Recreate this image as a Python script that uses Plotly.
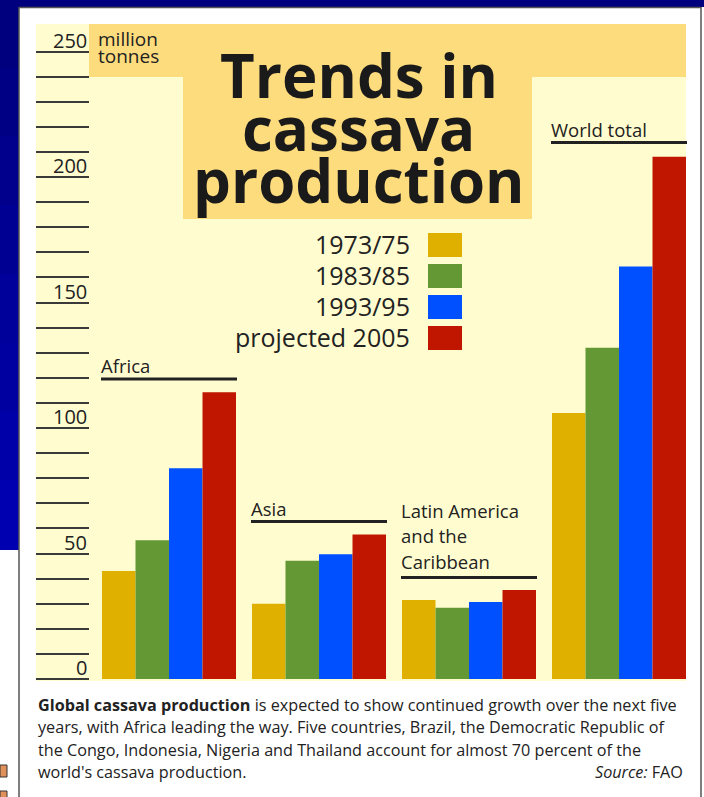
import plotly.graph_objects as go

W, H = 704, 797

# ---------------- data ----------------
regions = ["Africa", "Asia", "Latin America and the Caribbean", "World total"]
periods = ["1973/75", "1983/85", "1993/95", "projected 2005"]
v_1973_75 = [43, 30, 31.5, 106]
v_1983_85 = [55.3, 47.1, 28.4, 132]
v_1993_95 = [84, 49.7, 30.7, 164.3]
v_2005 = [114.2, 57.6, 35.5, 208.1]
series = [v_1973_75, v_1983_85, v_1993_95, v_2005]
colors = ["#E0B000", "#649834", "#0050FF", "#C01600"]
tick_lines = list(range(0, 251, 10))
tick_labels = [0, 50, 100, 150, 200, 250]

FONT = "Open Sans"
TXT = "#222222"

def px(x):
    return x / W

def py(y):
    return 1 - y / H

# axis geometry (pixels)
Y0_PX, Y_TOP_PX = 679, 24
SCALE = 2.51  # px per million tonnes
X_LEFT, X_RIGHT = 94, 694

fig = go.Figure()
for name, vals, col in zip(periods, series, colors):
    fig.add_trace(go.Bar(x=regions, y=vals, name=name, marker=dict(color=col, line=dict(width=0)),
                         showlegend=False, hoverinfo="x+y+name"))

shapes = []
def rect(x0, y0, x1, y1, color, line=None):
    shapes.append(dict(type="rect", xref="paper", yref="paper", x0=px(x0), x1=px(x1),
                       y0=py(y1), y1=py(y0), fillcolor=color,
                       line=dict(width=0) if line is None else line, layer="below"))

def hline(x0, x1, y, color="#222222", width=3):
    shapes.append(dict(type="line", xref="paper", yref="paper", x0=px(x0), x1=px(x1),
                       y0=py(y), y1=py(y), line=dict(color=color, width=width), layer="above"))

# slide background: blue band top and gradient strip left
rect(0, 0, W, 7, "#00007E")
n = 8
seg = 550 / n
for i in range(n):
    t = i / (n - 1)
    b = int(126 + t * (176 - 126))
    rect(0, max(0, i * seg - 1), 19, min(550, (i + 1) * seg + 2), f"rgb(0,0,{b})")
# white panel border
shapes.append(dict(type="line", xref="paper", yref="paper", x0=px(19), x1=px(19), y0=py(7), y1=0,
                   line=dict(color="#555555", width=1.5), layer="below"))
shapes.append(dict(type="line", xref="paper", yref="paper", x0=px(19), x1=px(701), y0=py(7.5), y1=py(7.5),
                   line=dict(color="#555555", width=1.5), layer="below"))
shapes.append(dict(type="line", xref="paper", yref="paper", x0=px(701), x1=px(701), y0=py(7), y1=0,
                   line=dict(color="#555555", width=1.5), layer="below"))
# small orange icons at the left edge
rect(0, 765, 7, 777, "#E0905A", line=dict(color="#333333", width=1))
rect(0, 791, 7, 800, "#E0905A", line=dict(color="#333333", width=1))

# chart panel
rect(36, 24, 686, 681, "#FFFCCF")
rect(89, 24, 686, 77, "#FDDC7E")
rect(183, 24, 532, 219, "#FDDC7E")

# legend swatches
for i, col in enumerate(colors):
    rect(428, 233 + 31 * i, 462, 257 + 31 * i, col)

annotations = []
def text(x, y, s, size, anchor="left", bold=False, color=TXT):
    annotations.append(dict(xref="paper", yref="paper", x=px(x), y=py(y), text=s, showarrow=False,
                            xanchor=anchor, yanchor="middle", borderpad=0,
                            font=dict(family=FONT, size=size, color=color,
                                      weight="bold" if bold else "normal")))

# title
for s, b in zip(["Trends in", "cassava", "production"], [97, 150, 202]):
    text(359, b - 0.36 * 60, s, 60, anchor="center", bold=True, color="#1A1A1A")

# unit
text(97, 46 - 0.36 * 19, "million", 19)
text(97, 63 - 0.36 * 19, "tonnes", 19)

# tick labels (above tick lines, right aligned)
for v in tick_labels:
    ypx = Y0_PX - v * SCALE
    text(88, ypx - 4 - 0.36 * 20, str(v), 20, anchor="right")

# legend text
for i, p in enumerate(periods):
    text(411, 245 + 31 * i - 1, p, 25, anchor="right")

# region labels with underline
grp_w = (X_RIGHT - X_LEFT) / len(regions)
gap = 16
region_labels = [
    (["Africa"], [372], 379),
    (["Asia"], [515], 521.5),
    (["Latin America", "and the", "Caribbean"], [517, 542, 568], 577.5),
    (["World total"], [136], 142.5),
]
for i, (lines, bases, ly) in enumerate(region_labels):
    gx0 = X_LEFT + i * grp_w + gap / 2
    gx1 = gx0 + grp_w - gap
    for s, b in zip(lines, bases):
        text(gx0 - 2, b - 0.36 * 18.5, s, 18.5)
    hline(gx0 - 1, gx1 + 1, ly)

# caption
cap = [
    "<b>Global cassava production</b> is expected to show continued growth over the next five",
    "years, with Africa leading the way. Five countries, Brazil, the Democratic Republic of",
    "the Congo, Indonesia, Nigeria and Thailand account for almost 70 percent of the",
    "world's cassava production.",
]
for i, s in enumerate(cap):
    text(37, 705 + 22.4 * i, s, 16.2)
text(684, 705 + 22.4 * 3, "<i>Source:</i> FAO", 16.2, anchor="right")

fig.update_layout(
    width=W, height=H,
    margin=dict(l=0, r=0, t=0, b=0),
    paper_bgcolor="white",
    plot_bgcolor="rgba(0,0,0,0)",
    barmode="group",
    bargap=gap / grp_w,
    bargroupgap=0,
    showlegend=False,
    shapes=shapes,
    annotations=annotations,
    xaxis=dict(domain=[px(X_LEFT), px(X_RIGHT)], range=[-0.5, 3.5], visible=False, fixedrange=True),
    yaxis=dict(domain=[py(Y0_PX), py(Y_TOP_PX)], range=[0, (Y0_PX - Y_TOP_PX) / SCALE],
               anchor="free", position=px(89), side="left",
               tickmode="array", tickvals=tick_lines, ticks="outside", ticklen=53,
               tickwidth=2.2, tickcolor="#3A3A3A", showticklabels=False,
               showgrid=False, zeroline=False, showline=False, fixedrange=True),
)

fig.write_html("out.html")
